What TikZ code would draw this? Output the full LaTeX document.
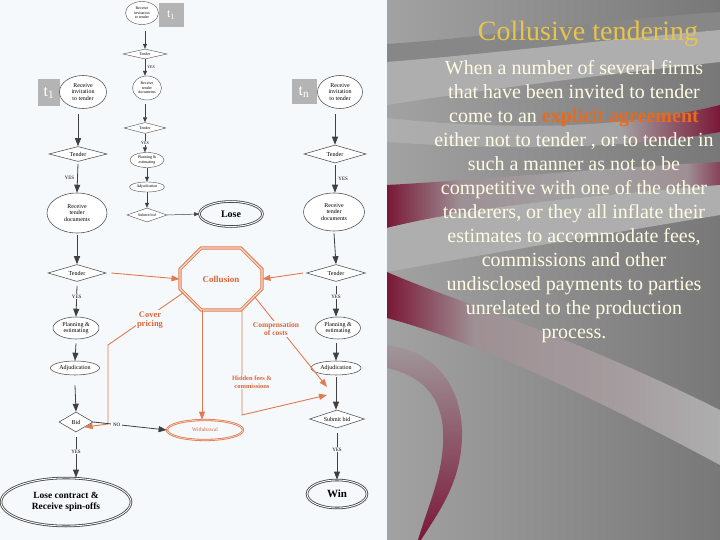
\documentclass[tikz,border=0pt]{standalone}
\usepackage{fontspec}
\setmainfont{Liberation Serif}
\usetikzlibrary{shapes.geometric,shapes.misc,arrows.meta}

\definecolor{paper}{HTML}{F6F9FC}
\definecolor{slidel}{HTML}{A2A2A2}
\definecolor{slider}{HTML}{787878}
\definecolor{slidelight}{HTML}{AEAEAE}
\definecolor{slidedark}{HTML}{878787}
\definecolor{wine}{HTML}{7A1838}
\definecolor{winefade}{HTML}{9E9094}
\definecolor{titlegold}{HTML}{E8C44A}
\definecolor{cream}{HTML}{FFFCE4}
\definecolor{keyorange}{HTML}{E86A1E}
\definecolor{coll}{HTML}{E27A50}
\definecolor{colltext}{HTML}{D9653A}
\definecolor{colllight}{HTML}{F8DCCC}
\definecolor{tgray}{HTML}{B4B4B4}

% sombreados de las franjas
\pgfdeclarehorizontalshading{wineband}{100bp}{color(0bp)=(wine); color(25bp)=(wine);
    color(36bp)=(winefade); color(55bp)=(slidel); color(70bp)=(winefade); color(75bp)=(wine!70!slidel);
    color(100bp)=(wine!70!slidel)}
\pgfdeclarehorizontalshading{wineswoosh}{100bp}{color(0bp)=(wine); color(25bp)=(wine);
    color(38bp)=(winefade); color(60bp)=(winefade!60!slidelight); color(75bp)=(slidelight);
    color(100bp)=(slidelight)}
\pgfdeclarehorizontalshading{winetip}{100bp}{color(0bp)=(slidelight); color(25bp)=(slidelight);
    color(60bp)=(slidel); color(75bp)=(wine); color(100bp)=(wine)}

\begin{document}
\begin{tikzpicture}[x=1pt, y=-1pt,
    % Estilos de nodos
    flowell/.style={
        ellipse, draw=black!70, line width=0.55pt, fill=white,
        inner sep=0pt, align=center, font=\fontsize{6}{6.8}\selectfont
    },
    flowdia/.style={
        diamond, draw=black!70, line width=0.55pt, fill=white,
        inner sep=0pt, aspect=3.5, font=\fontsize{6}{6.5}\selectfont
    },
    tinyflow/.style={line width=0.4pt, font=\fontsize{4}{4.5}\selectfont},
    endell/.style={
        ellipse, draw=black!75, line width=0.8pt, double=white,
        double distance=0.9pt, inner sep=0pt, align=center,
        font=\bfseries\fontsize{10}{11}\selectfont
    },
    tbox/.style={fill=tgray, text=white, inner sep=0pt, font=\fontsize{16}{16}\selectfont},
    flowarr/.style={-{Triangle[length=8pt,width=6pt]}, draw=black!75, line width=0.8pt},
    tinyarr/.style={-{Triangle[length=5pt,width=4pt]}, draw=black!75, line width=0.5pt},
    yeslbl/.style={fill=paper, inner sep=1pt, font=\fontsize{5}{5}\selectfont},
    collarr/.style={-{Triangle[length=8pt,width=6pt]}, draw=coll, line width=0.9pt},
    colllbl/.style={fill=paper, inner sep=1pt, text=colltext, align=center,
        font=\bfseries\fontsize{8}{9}\selectfont}
]
\useasboundingbox (0,0) rectangle (720,540);

% =============================================
% FONDO
% =============================================
\fill[paper] (0,0) rectangle (387,540);
\shade[left color=slidel, right color=slider] (387,0) rectangle (720,540);

% franjas grises
\fill[slidedark] (387,44) .. controls (480,38) and (600,20) .. (720,12)
    -- (720,30) .. controls (600,40) and (480,55) .. (387,62) -- cycle;
\fill[slidelight] (387,62) .. controls (480,55) and (600,40) .. (720,30)
    -- (720,62) .. controls (600,75) and (480,90) .. (387,105) -- cycle;
\shade[shading=winetip] (387,118) .. controls (500,130) and (620,130) .. (720,105)
    -- (720,132) .. controls (620,150) and (500,150) .. (387,142) -- cycle;

% franjas granate
\shade[shading=wineband]
    (387,185) .. controls (480,180) and (600,168) .. (720,162)
    -- (720,185) .. controls (600,195) and (480,205) .. (387,228) -- cycle;
\fill[slidelight] (387,228) .. controls (480,205) and (600,195) .. (720,185)
    -- (720,215) .. controls (600,235) and (480,255) .. (387,272) -- cycle;
\shade[shading=wineswoosh]
    (387,272) .. controls (450,300) and (560,330) .. (720,410)
    -- (720,465) .. controls (580,390) and (470,340) .. (387,318) -- cycle;
\shade[top color=winefade!60!slidel, bottom color=wine]
    (387,345) .. controls (430,350) and (460,380) .. (462,430)
    .. controls (463,480) and (440,510) .. (421,540) -- (418,540)
    .. controls (430,500) and (445,470) .. (443,430)
    .. controls (441,395) and (420,375) .. (387,368) -- cycle;

% =============================================
% TEXTO
% =============================================
\node[anchor=base, text=titlegold, font=\fontsize{28}{28}\selectfont] (title) at (588,41)
    {Collusive tendering};
\node[anchor=north, align=center, text=cream, inner sep=0pt,
    font=\fontsize{20}{24}\selectfont] (body) at (574,60)
    {When a number of several firms\\
     that have been invited to tender\\
     come to an {\bfseries\color{keyorange}explicit agreement}\\
     either not to tender , or to tender in\\
     such a manner as not to be\\
     competitive with one of the other\\
     tenderers, or they all inflate their\\
     estimates to accommodate fees,\\
     commissions and other\\
     undisclosed payments to parties\\
     unrelated to the production\\
     process.};

% =============================================
% COLUMNA CENTRAL (pequena)
% =============================================
\node[flowell, tinyflow, minimum width=33pt, minimum height=23pt] (sinv) at (142,13)
    {Receive\\invitation\\to tender};
\node[tbox, minimum width=25pt, minimum height=24pt, font=\fontsize{12}{12}\selectfont] (st) at (171,15)
    {t\textsubscript{1}};
\node[flowdia, tinyflow, minimum width=44pt, minimum height=10pt] (sten1) at (145,54) {Tender};
\node[flowell, tinyflow, minimum width=29pt, minimum height=24pt] (sdoc) at (147,88)
    {Receive\\tender\\documents};
\node[flowdia, tinyflow, minimum width=42pt, minimum height=11pt] (sten2) at (145,128) {Tender};
\node[flowell, tinyflow, minimum width=34pt, minimum height=15pt] (splan) at (147,160)
    {Planning \&\\estimating};
\node[flowell, tinyflow, minimum width=35pt, minimum height=10pt] (sadj) at (147,187) {Adjudication};
\node[flowdia, tinyflow, minimum width=40pt, minimum height=14pt] (ssub) at (147,215) {Submit bid};
\node[endell, minimum width=63pt, minimum height=25pt] (lose) at (231,214) {Lose};

\draw[tinyarr] (sten1.north |- sinv.south) ++(0,6) -- (sten1.north);
\draw[tinyarr] (sten1.south) -- (sten1.south |- sdoc.north)
    node[yeslbl, font=\fontsize{4}{4.5}\selectfont, midway, right=1pt, fill=none] {YES};
\draw[tinyarr] (sten2.north |- sdoc.south) ++(0,4) -- (sten2.north);
\draw[tinyarr] (sten2.south) -- (sten2.south |- splan.north)
    node[yeslbl, font=\fontsize{4}{4.5}\selectfont, midway] {YES};
\draw[tinyarr] (splan.south) -- (sadj.north);
\draw[tinyarr] (sadj.south) -- (ssub.north);
\draw[tinyarr] (ssub.east) -- (lose.west);

% =============================================
% COLUMNA IZQUIERDA
% =============================================
\node[tbox, minimum width=22pt, minimum height=27pt] (lt) at (49,93) {t\textsubscript{1}};
\node[flowell, minimum width=47pt, minimum height=33pt] (linv) at (83,92)
    {Receive\\invitation\\to tender};
\node[flowdia, minimum width=58pt, minimum height=15pt] (lten1) at (78,154) {Tender};
\node[flowell, minimum width=60pt, minimum height=40pt] (ldoc) at (77,213)
    {Receive\\tender\\documents};
\node[flowdia, minimum width=58pt, minimum height=17pt] (lten2) at (77,273) {Tender};
\node[flowell, minimum width=46pt, minimum height=22pt] (lplan) at (76,328)
    {Planning \&\\estimating};
\node[flowell, minimum width=49pt, minimum height=14pt] (ladj) at (75,368) {Adjudication};
\node[flowdia, minimum width=34pt, minimum height=20pt] (lbid) at (76,422) {Bid};
\node[endell, minimum width=130pt, minimum height=48pt,
    font=\bfseries\fontsize{9.5}{11}\selectfont] (lcr) at (66,502)
    {Lose contract \&\\Receive spin-offs};

\draw[flowarr] (lten1.north |- linv.south) ++(0,5) -- (lten1.north);
\draw[flowarr] (lten1.south) ++(0,2) -- (ldoc.north)
    node[yeslbl, midway, left=2pt, fill=none] {YES};
\draw[flowarr] (ldoc.south) ++(0,2) -- (lten2.north);
\draw[flowarr] (lten2.south) ++(0,4) -- (lplan.north)
    node[yeslbl, pos=0.35] {YES};
\draw[flowarr] (lplan.south) ++(0,4) -- (ladj.north);
\draw[flowarr] (ladj.south) ++(0,10) -- (lbid.north);
\draw[flowarr] (lbid.south) ++(0,5) -- (lbid.south |- lcr.north)
    node[yeslbl, pos=0.35] {YES};

% =============================================
% COLUMNA DERECHA
% =============================================
\node[tbox, minimum width=25pt, minimum height=25pt] (rt) at (304,92) {t\textsubscript{n}};
\node[flowell, minimum width=45pt, minimum height=33pt] (rinv) at (340,92)
    {Receive\\invitation\\to tender};
\node[flowdia, minimum width=62pt, minimum height=18pt] (rten1) at (335,154) {Tender};
\node[flowell, minimum width=61pt, minimum height=38pt] (rdoc) at (334,212)
    {Receive\\tender\\documents};
\node[flowdia, minimum width=59pt, minimum height=17pt] (rten2) at (336,273) {Tender};
\node[flowell, minimum width=45pt, minimum height=22pt] (rplan) at (338,328)
    {Planning \&\\estimating};
\node[flowell, minimum width=50pt, minimum height=14pt] (radj) at (336,368) {Adjudication};
\node[flowdia, minimum width=55pt, minimum height=18pt] (rsub) at (337,419) {Submit bid};
\node[endell, minimum width=60pt, minimum height=28pt,
    font=\bfseries\fontsize{11}{12}\selectfont] (rwin) at (337,494) {Win};

\draw[flowarr] (rten1.north |- rinv.south) ++(0,5) -- (rten1.north);
\draw[flowarr] (rten1.south) ++(0,2) -- (rten1.south |- rdoc.north)
    node[yeslbl, midway, right=2pt, fill=none] {YES};
\draw[flowarr] (rdoc.south) ++(0,2) -- (rten2.north);
\draw[flowarr] (rten2.south) ++(0,4) -- (rten2.south |- rplan.north)
    node[yeslbl, pos=0.35] {YES};
\draw[flowarr] (rplan.south -| radj.north) ++(0,4) -- (radj.north);
\draw[flowarr] (radj.south) ++(0,2) -- (radj.south |- rsub.north);
\draw[flowarr] (rsub.south) ++(0,5) -- (rsub.south |- rwin.north)
    node[yeslbl, pos=0.35] {YES};

% =============================================
% COLUSION
% =============================================
\node[chamfered rectangle, chamfered rectangle xsep=18pt, chamfered rectangle ysep=18pt,
    draw=coll, line width=0.9pt, double=colllight, double distance=1.3pt,
    minimum width=82pt, minimum height=62pt, inner sep=0pt, text=colltext,
    font=\bfseries\fontsize{9}{10}\selectfont] (coll) at (221,279) {Collusion};
\node[ellipse, draw=coll, line width=0.8pt, double=colllight, double distance=0.6pt,
    fill=paper, minimum width=76pt, minimum height=20pt,
    inner sep=0pt, text=colltext, font=\fontsize{5.5}{5.5}\selectfont] (wd) at (205,430) {Withdrawal};

\coordinate (cvA) at (108,345);
\coordinate (cvB) at (108,424);
\coordinate (hidB) at (242,415);
\coordinate (hit1) at (327,387);
\coordinate (hit2) at (327,395);

\draw[collarr] (lten2.east) ++(5,0) -- (coll.west);
\draw[collarr] (rten2.west) ++(-3,0) -- (coll.east);
\draw[collarr] (coll.200) -- (cvA) -- (cvB) -- (lbid.south east);
\draw[collarr] (coll.-28) -- (hit1);
\draw[collarr] ([xshift=21pt]coll.south) -- (hidB) -- (hit2);
\draw[collarr] ([xshift=-19pt]coll.south) -- ([xshift=-19pt]coll.south |- wd.north);
\draw[flowarr] (lbid.east) -- (wd.west)
    node[yeslbl, pos=0.32, inner sep=2pt] {NO};

\node[colllbl, font=\bfseries\fontsize{8.5}{9.5}\selectfont] (cover) at (150,320) {Cover\\pricing};
\node[colllbl, font=\bfseries\fontsize{7.5}{8.5}\selectfont] (comp) at (276,329) {Compensation\\of costs};
\node[colllbl, font=\bfseries\fontsize{6.5}{7.5}\selectfont] (hid) at (252,382) {Hidden fees \&\\commissions};

\end{tikzpicture}
\end{document}
